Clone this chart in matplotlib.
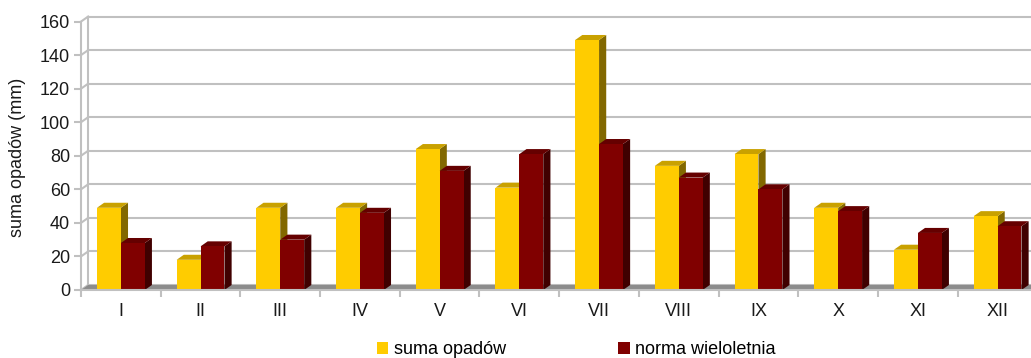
import matplotlib.pyplot as plt
from matplotlib.patches import Polygon, Patch

plt.rcParams['font.family'] = ['Liberation Sans', 'DejaVu Sans']
plt.rcParams['font.size'] = 13

# monthly precipitation vs long-term norm
months = ["I", "II", "III", "IV", "V", "VI", "VII", "VIII", "IX", "X", "XI", "XII"]
suma_opadow = [49, 18, 49, 49, 84, 61, 149, 74, 81, 49, 24, 44]
norma_wieloletnia = [28, 26, 30, 46, 71, 81, 87, 67, 60, 47, 34, 38]
yticks = [0, 20, 40, 60, 80, 100, 120, 140, 160]

# fake 3d depth (x in category units, y in mm)
dx = 0.09
dy = 3.0
bar_w = 0.3
grid_c = '#c0c0c0'

series = [
    (suma_opadow, 0.2, '#ffcc00', '#c9a100', '#826800', 'suma opadów'),
    (norma_wieloletnia, 0.5, '#800000', '#650000', '#400000', 'norma wieloletnia'),
]

fig = plt.figure(figsize=(10.31, 3.58), dpi=100)
ax = fig.add_axes([81 / 1031, 68 / 358, 956.4 / 1031, 278.5 / 358])
ax.set_xlim(0, len(months))
ax.set_ylim(0, 166)
n = len(months)

# back wall grid + left wall
for v in yticks:
    ax.plot([dx, n + dx], [v + dy, v + dy], color=grid_c, lw=1.5, zorder=1, clip_on=False)
    ax.plot([0, dx], [v, v + dy], color=grid_c, lw=1.5, zorder=1, clip_on=False)
ax.plot([dx, dx], [dy, yticks[-1] + dy], color=grid_c, lw=1.5, zorder=1)

# floor
ax.add_patch(Polygon([(0, 0), (n, 0), (n + dx, dy), (dx, dy)], closed=True,
                     fc='#8c8c8c', ec='none', zorder=2, clip_on=False))

z = 3
for i in range(n):
    for vals, off, front, top, side, _ in series:
        x0 = i + off
        h = vals[i]
        ax.add_patch(Polygon([(x0 + bar_w, 0), (x0 + bar_w + dx, dy),
                              (x0 + bar_w + dx, h + dy), (x0 + bar_w, h)],
                             closed=True, fc=side, ec='none', zorder=z))
        ax.add_patch(Polygon([(x0, h), (x0 + bar_w, h), (x0 + bar_w + dx, h + dy),
                              (x0 + dx, h + dy)], closed=True, fc=top, ec='none', zorder=z))
        ax.bar(x0, h, width=bar_w, align='edge', color=front, lw=0, zorder=z)
        z += 1

for s in ['top', 'right']:
    ax.spines[s].set_visible(False)
for s in ['left', 'bottom']:
    ax.spines[s].set_color(grid_c)
    ax.spines[s].set_linewidth(1.5)
    ax.spines[s].set_zorder(z + 1)
ax.spines['left'].set_bounds(0, yticks[-1])
ax.spines['bottom'].set_bounds(0, n)

ax.set_yticks(yticks)
ax.tick_params(axis='y', length=5, width=1.5, color=grid_c, pad=3, labelcolor='#1a1a1a')
ax.set_xticks(range(n + 1))
ax.set_xticklabels([])
ax.set_xticks([i + 0.5 for i in range(n)], minor=True)
ax.set_xticklabels(months, minor=True)
ax.tick_params(axis='x', which='major', length=5, width=1.5, color=grid_c)
ax.tick_params(axis='x', which='minor', length=0, pad=9.5, labelcolor='#1a1a1a')

fig.text(17.5 / 1031, 1 - 157.5 / 358, 'suma opadów (mm)', rotation=90,
         ha='center', va='center', color='#1a1a1a')

handles = [Patch(fc=s[2], label=s[5]) for s in series]
fig.legend(handles=handles, ncol=2, loc='center', bbox_to_anchor=(576 / 1031, 1 - 349.5 / 358),
           frameon=False, handlelength=0.65, handleheight=0.65, handletextpad=0.3,
           columnspacing=6.2, borderpad=0, borderaxespad=0)

fig.savefig('out.png', dpi=100)
